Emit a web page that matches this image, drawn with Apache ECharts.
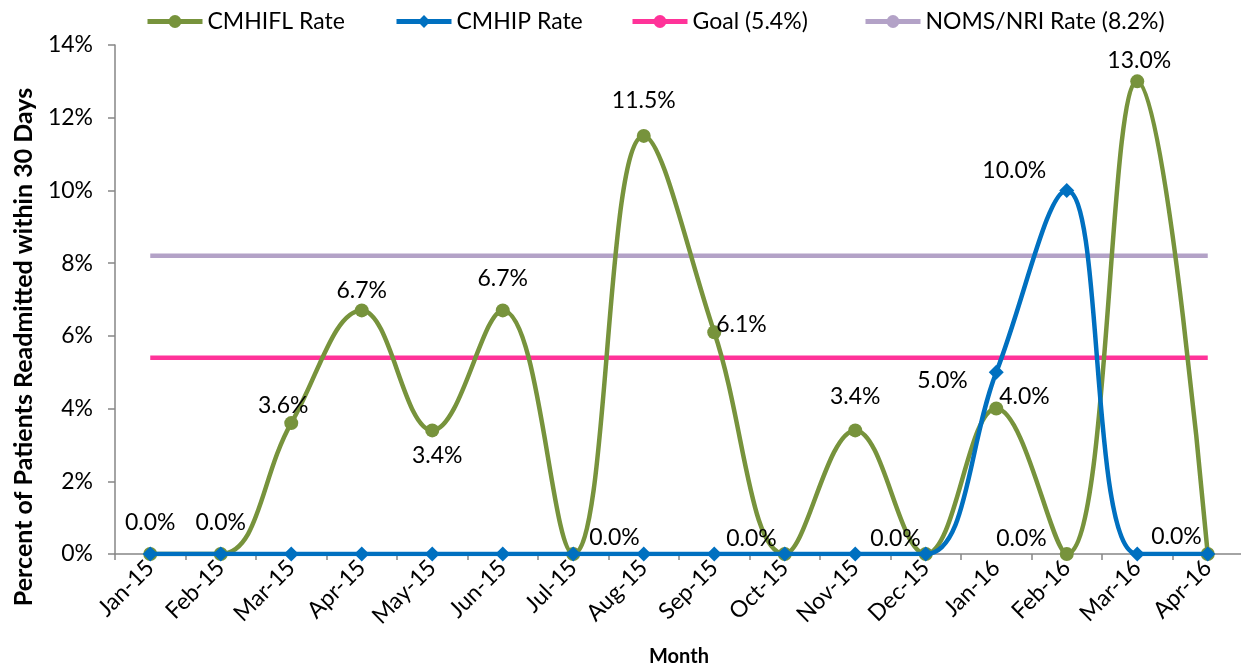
<!DOCTYPE html>
<html>
<head>
<meta charset="utf-8">
<script src="https://cdn.jsdelivr.net/npm/echarts@6/dist/echarts.min.js"></script>
<style>
  html, body { margin: 0; padding: 0; background: #fff; }
  #chart { width: 1241px; height: 669px; }
</style>
</head>
<body>
<div id="chart"></div>
<script>
// Monthly 30-day readmission rates (percent)
const months = ['Jan-15','Feb-15','Mar-15','Apr-15','May-15','Jun-15','Jul-15','Aug-15',
                'Sep-15','Oct-15','Nov-15','Dec-15','Jan-16','Feb-16','Mar-16','Apr-16'];
const cmhiflRate = [0, 0, 3.6, 6.7, 3.4, 6.7, 0, 11.5, 6.1, 0, 3.4, 0, 4.0, 0, 13.0, 0];
const cmhipRate  = [0, 0, 0, 0, 0, 0, 0, 0, 0, 0, 0, 0, 5.0, 10.0, 0, 0];
const goalRate = 5.4;
const nomsRate = 8.2;
const yTicks = [0, 2, 4, 6, 8, 10, 12, 14];
const yTitle = 'Percent of Patients Readmitted within 30 Days';

const FONT = "Lato, 'Open Sans', sans-serif";
const GREEN = '#77933C', BLUE = '#0070C0', PINK = '#FF3399', PURPLE = '#B3A2C7';

// where each CMHIFL value label sits relative to its point
const greenLabelOffsets = [
  ['top', [0, -8]], ['top', [0, -8]], ['top', [-8, 6]], ['top', [0, 4]],
  ['bottom', [5, 2]], ['top', [0, -8]], ['right', [4, -16]], ['top', [0, -12]],
  ['right', [-10, -8]], ['left', [4, -15]], ['top', [0, -10]], ['left', [7, -15]],
  ['right', [-9, -12]], ['left', [-8, -15]], ['top', [2, 3]], ['left', [6, -17]]
];
const blueLabelOffsets = {12: ['left', [-16, 8]], 13: ['left', [-8, -20]]};

const fmt = v => v.toFixed(1) + '%';

const greenData = cmhiflRate.map((v, i) => ({
  value: v,
  label: { show: true, position: greenLabelOffsets[i][0], offset: greenLabelOffsets[i][1] }
}));
const blueData = cmhipRate.map((v, i) => {
  const lab = blueLabelOffsets[i];
  return lab ? { value: v, label: { show: true, position: lab[0], offset: lab[1] } } : { value: v };
});

const chart = echarts.init(document.getElementById('chart'), null, { renderer: 'canvas' });

const legendBase = {
  top: 5, itemWidth: 55, itemHeight: 16, itemGap: 0,
  lineStyle: { width: 5 },
  textStyle: { fontFamily: FONT, fontSize: 23, color: '#000', padding: [0, 0, 0, 0] },
  selectedMode: false
};

chart.setOption({
  animation: false,
  backgroundColor: '#fff',
  textStyle: { fontFamily: FONT },
  legend: [
    Object.assign({}, legendBase, { left: 140, data: ['CMHIFL Rate'] }),
    Object.assign({}, legendBase, { left: 389, data: ['CMHIP Rate'] }),
    Object.assign({}, legendBase, { left: 625, data: ['Goal (5.4%)'] }),
    Object.assign({}, legendBase, { left: 858, data: ['NOMS/NRI Rate (8.2%)'] })
  ],
  grid: { left: 115, right: -2, top: 45, bottom: 115, containLabel: false, outerBoundsMode: 'none' },
  // vertical axis title
  graphic: [{
    type: 'text',
    x: 24, y: 347,
    rotation: Math.PI / 2,
    style: {
      text: yTitle, fontFamily: FONT, fontSize: 25, fontWeight: 'bold', fill: '#000',
      align: 'center', verticalAlign: 'middle'
    }
  }],
  xAxis: {
    type: 'category',
    data: months,
    boundaryGap: true,
    name: 'Month',
    nameLocation: 'middle',
    nameGap: 93,
    nameTextStyle: { fontFamily: FONT, fontSize: 20, fontWeight: 'bold', color: '#000' },
    axisLine: { lineStyle: { color: '#868686', width: 1.5 } },
    axisTick: { show: true, alignWithLabel: false, length: 6, lineStyle: { color: '#868686', width: 1.5 } },
    axisLabel: { rotate: 45, fontFamily: FONT, fontSize: 23, color: '#000', margin: 10, interval: 0 },
    splitLine: { show: false }
  },
  yAxis: {
    type: 'value',
    min: yTicks[0], max: yTicks[yTicks.length - 1], interval: 2,
    axisLine: { show: true, lineStyle: { color: '#868686', width: 1.5 } },
    axisTick: { show: true, length: 7, lineStyle: { color: '#868686', width: 1.5 } },
    axisLabel: { fontFamily: FONT, fontSize: 23, color: '#000', margin: 22, formatter: '{value}%' },
    splitLine: { show: false }
  },
  series: [
    {
      name: 'Goal (5.4%)', type: 'line', data: months.map(() => goalRate),
      symbol: 'none', lineStyle: { color: PINK, width: 4.5 }, itemStyle: { color: PINK }, z: 1
    },
    {
      name: 'NOMS/NRI Rate (8.2%)', type: 'line', data: months.map(() => nomsRate),
      symbol: 'none', lineStyle: { color: PURPLE, width: 4.5 }, itemStyle: { color: PURPLE }, z: 1
    },
    {
      name: 'CMHIFL Rate', type: 'line', data: greenData, smooth: 0.4,
      symbol: 'circle', symbolSize: 14,
      lineStyle: { color: GREEN, width: 4.5 }, itemStyle: { color: GREEN },
      label: { fontFamily: FONT, fontSize: 23, color: '#000', formatter: p => fmt(p.value) },
      z: 2
    },
    {
      name: 'CMHIP Rate', type: 'line', data: blueData, smooth: 0.4,
      symbol: 'diamond', symbolSize: 15,
      lineStyle: { color: BLUE, width: 4.5 }, itemStyle: { color: BLUE },
      label: { fontFamily: FONT, fontSize: 23, color: '#000', formatter: p => fmt(p.value) },
      z: 3
    }
  ]
});
</script>
</body>
</html>
